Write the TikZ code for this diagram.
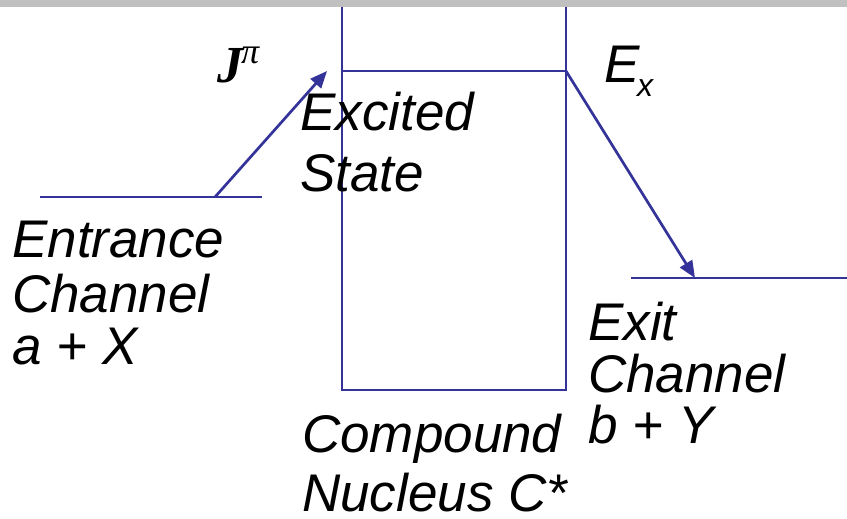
\documentclass[tikz,border=0pt]{standalone}
\usepackage{fontspec}
\setmainfont{Liberation Sans}
\newfontfamily\serifface{Liberation Serif}
\usetikzlibrary{arrows.meta}
\definecolor{lineblue}{RGB}{51,51,153}
\definecolor{bargray}{RGB}{192,192,192}
\begin{document}
\begin{tikzpicture}[x=1pt,y=-1pt,
  lvl/.style={draw=lineblue,line width=2.7pt},
  trans/.style={draw=lineblue,line width=2.7pt,-{Triangle[length=17pt,width=14pt]}},
  lbl/.style={anchor=base west,inner sep=0pt,font=\fontsize{53}{60}\selectfont\itshape},
  smalllbl/.style={anchor=base west,inner sep=0pt,font=\fontsize{32}{36}\selectfont\itshape}]
\useasboundingbox (0,0) rectangle (847,519);
\fill[bargray] (0,0) rectangle (847,7);
% named points
\coordinate (boxTL) at (342,7);
\coordinate (boxTR) at (566,7);
\coordinate (boxBL) at (342,390);
\coordinate (boxBR) at (566,390);
\coordinate (excL) at (342,71);
\coordinate (excR) at (566,71);
\coordinate (entL) at (40,197);
\coordinate (entR) at (262,197);
\coordinate (entFrom) at (215,197);
\coordinate (excTo) at (327,71);
\coordinate (exL) at (631,278);
\coordinate (exR) at (847,278);
\coordinate (exTo) at (695,278);
% compound nucleus box
\draw[lvl] (boxTL) -- (boxBL) -- (boxBR) -- (boxTR);
\draw[lvl] (excL) -- (excR);
% channel levels
\draw[lvl] (entL) -- (entR);
\draw[lvl] (exL) -- (exR);
% transitions
\draw[trans] (entFrom) -- (excTo);
\draw[trans] (excR) -- (exTo);
% labels
\node[lbl] (ent1) at (12,257) {Entrance};
\node[lbl] (ent2) at (12,312) {Channel};
\node[lbl] (ent3) at (12,364) {a + X};
\node[lbl] (exc1) at (300,130) {Excited};
\node[lbl] (exc2) at (300,191) {State};
\node[lbl] (cn1) at (302,452) {Compound};
\node[lbl] (cn2) at (302,511) {Nucleus C*};
\node[lbl] (ex1) at (588,340) {Exit};
\node[lbl] (ex2) at (588,392) {Channel};
\node[lbl] (ex3) at (588,443) {b + Y};
\node[anchor=base west,inner sep=0pt,font=\fontsize{52}{56}\selectfont\serifface\bfseries\itshape] (jlbl) at (217,83) {J};
\node[anchor=base west,inner sep=0pt,font=\fontsize{36}{40}\selectfont\serifface\itshape] (pilbl) at (241,64) {π};
\node[lbl] (exlbl) at (604,83) {E};
\node[smalllbl] (xlbl) at (637,96) {x};
\end{tikzpicture}
\end{document}
